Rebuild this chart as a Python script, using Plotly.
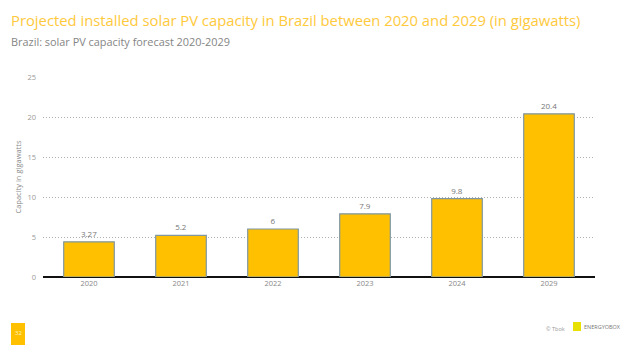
import plotly.graph_objects as go

years = ["2020", "2021", "2022", "2023", "2024", "2029"]
capacity = [4.4, 5.2, 6.0, 7.9, 9.8, 20.4]
bar_labels = ["3.27", "5.2", "6", "7.9", "9.8", "20.4"]
y_ticks = [0, 5, 10, 15, 20, 25]

FONT = "Open Sans"

plot_l, plot_r, plot_t, plot_b = 43, 595, 77, 277
pw, ph = plot_r - plot_l, plot_b - plot_t
def px2paper(x, y):
    return (x - plot_l) / pw, (plot_b - y) / ph

fig = go.Figure()
fig.add_trace(go.Bar(
    x=years, y=capacity,
    text=bar_labels, textposition="outside",
    textfont=dict(family=FONT, size=8, color="#777777"),
    marker=dict(color="#FFC000", line=dict(color="#7F97A3", width=1.2)),
    cliponaxis=False,
))

def ann(text, x, y, size, color, xanchor="left"):
    px, py = px2paper(x, y)
    return dict(text=text, x=px, y=py, xref="paper", yref="paper", showarrow=False,
                xanchor=xanchor, yanchor="middle",
                font=dict(family=FONT, size=size, color=color))

fig.update_layout(
    width=635, height=355,
    margin=dict(l=plot_l, r=635 - plot_r, t=plot_t, b=355 - plot_b),
    paper_bgcolor="white", plot_bgcolor="white",
    bargap=0.45,
    showlegend=False,
    font=dict(family=FONT, color="#888888"),
    xaxis=dict(
        type="category", showgrid=False, showline=False, zeroline=False,
        ticks="", automargin=False,
        tickfont=dict(family=FONT, size=7.5, color="#888888"),
    ),
    yaxis=dict(
        range=[0, 25], tickvals=y_ticks, automargin=False,
        showgrid=True, gridcolor="#B0B0B0", griddash="1px,2px", gridwidth=1,
        zeroline=True, zerolinecolor="#111111", zerolinewidth=2,
        showline=False, ticks="",
        tickfont=dict(family=FONT, size=7.5, color="#999999"),
        ticklabelstandoff=6,
        title=dict(text="Capacity in gigawatts", standoff=4,
                   font=dict(family=FONT, size=7.5, color="#888888")),
    ),
    annotations=[
        ann("Projected installed solar PV capacity in Brazil between 2020 and 2029 (in gigawatts)",
            9, 20, 14.8, "#FFC93C"),
        ann("Brazil: solar PV capacity forecast 2020-2029", 9, 42, 10.9, "#858585"),
        ann("32", 18, 333, 6, "#FFF3C0", "center"),
        ann("© Tbok", 555, 329, 5.5, "#999999", "center"),
        ann("ENERGYOBOX", 602, 327, 5.5, "#777777", "center"),
    ],
)

x0, y1 = px2paper(11, 323)
x1, y0 = px2paper(25, 345)
fig.add_shape(type="rect", xref="paper", yref="paper", x0=x0, x1=x1, y0=y0, y1=y1,
              fillcolor="#FFC000", line=dict(width=0))
lx0, ly1 = px2paper(573, 322)
lx1, ly0 = px2paper(581, 331)
fig.add_shape(type="rect", xref="paper", yref="paper", x0=lx0, x1=lx1, y0=ly0, y1=ly1,
              fillcolor="#E8E000", line=dict(width=0))
dx, dy = px2paper(577, 333)
fig.add_trace(go.Scatter(x=[dx], y=[dy], xaxis="x2", yaxis="y2", mode="markers",
                         cliponaxis=False,
                         marker=dict(color="#E03020", size=3), hoverinfo="skip"))
fig.update_layout(
    xaxis2=dict(range=[0, 1], overlaying="x", visible=False, fixedrange=True),
    yaxis2=dict(range=[0, 1], overlaying="y", visible=False, fixedrange=True),
)

fig.write_html("out.html", config={"displayModeBar": False},
               post_script="document.body.style.margin='0';document.body.style.overflow='hidden';")
